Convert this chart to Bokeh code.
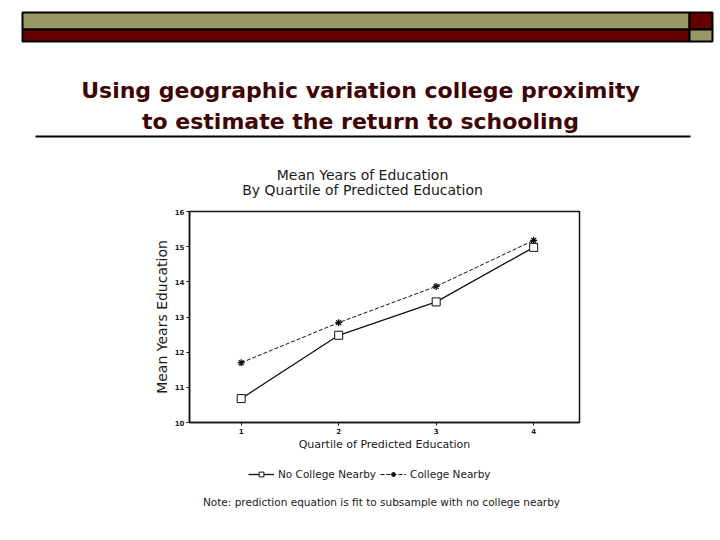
from bokeh.plotting import figure
from bokeh.models import (Label, BoxAnnotation, Legend, LegendItem, Range1d,
                          FixedTicker)
from bokeh.embed import file_html
from bokeh.resources import INLINE

# ---- data ----
quartiles = [1, 2, 3, 4]
no_college = [10.68, 12.48, 13.43, 14.98]
college = [11.70, 12.84, 13.87, 15.18]
y_ticks = [10, 11, 12, 13, 14, 15, 16]
x_ticks = [1, 2, 3, 4]
series_names = ["No College Nearby", "College Nearby"]

W = 720
HA = 200          # header figure height (page y 0-200)
HC_TOP = 455      # footer figure starts here (page y 455-540)
CH = "#1a1a1a"
FONT = "DejaVu Sans"


def deco_fig(y0, y1):
    f = figure(width=W, height=y1 - y0, output_backend="svg",
               toolbar_location=None,
               x_range=Range1d(0, W), y_range=Range1d(y1, y0),
               x_axis_type=None, y_axis_type=None,
               min_border=0, min_border_left=0, min_border_right=0,
               min_border_top=0, min_border_bottom=0)
    f.outline_line_color = None
    f.grid.visible = False
    f.background_fill_color = "white"
    f.border_fill_color = "white"
    return f


def label(f, X, Y, text, size, color=CH, font=FONT, style="normal",
          align="center", baseline="middle"):
    f.add_layout(Label(x=X, y=Y, text=text, text_font=font,
                       text_font_size=size, text_font_style=style,
                       text_color=color, text_align=align,
                       text_baseline=baseline))


# ================= header figure (slide decorations) =================
a = deco_fig(0, HA)


def box(x0, x1, y0, y1, fill, line=True):
    a.add_layout(BoxAnnotation(left=x0, right=x1, top=y0, bottom=y1,
                               fill_color=fill, fill_alpha=1,
                               line_color="black" if line else None,
                               line_width=2, line_alpha=1))


OLIVE = "#999966"
MAROON = "#660000"
box(22, 689, 12, 29, OLIVE)
box(689, 712, 12, 29, MAROON)
box(22, 689, 29, 41, MAROON)
box(689, 712, 29, 41, OLIVE)
box(35, 690, 135, 137, "black", line=False)

TC = "#3f0505"
label(a, 360, 90, "Using geographic variation college proximity", "22px",
      color=TC, font="DejaVu Sans", style="bold", baseline="alphabetic")
label(a, 360, 121, "to estimate the return to schooling", "22px",
      color=TC, font="DejaVu Sans", style="bold", baseline="alphabetic")

label(a, 362, 174, "Mean Years of Education", "14px")
label(a, 362, 189, "By Quartile of Predicted Education", "14px")

# ================= chart figure =================
FL, FR = 189, 579
FT, FB = 211, 422
p = figure(frame_width=FR - FL, frame_height=FB - FT,
           output_backend="svg", toolbar_location=None,
           x_range=Range1d(0.47, 4.47), y_range=Range1d(10, 16),
           min_border_left=FL, min_border_right=W - FR,
           min_border_top=FT - HA, min_border_bottom=HC_TOP - FB)
p.background_fill_color = "white"
p.border_fill_color = "white"
p.outline_line_color = "#111111"
p.outline_line_width = 1.5
p.grid.visible = False

p.yaxis.ticker = FixedTicker(ticks=y_ticks)
p.xaxis.ticker = FixedTicker(ticks=x_ticks)
for ax in (p.xaxis, p.yaxis):
    ax.axis_line_color = "#111111"
    ax.axis_line_width = 1.5
    ax.major_tick_line_color = "#111111"
    ax.major_tick_out = 3
    ax.major_tick_in = 0
    ax.minor_tick_line_color = None
    ax.major_label_text_font = FONT
    ax.major_label_text_font_size = "7px"
    ax.major_label_text_font_style = "bold"
    ax.major_label_text_color = CH
    ax.axis_label_text_font = FONT
    ax.axis_label_text_font_style = "normal"
    ax.axis_label_text_color = CH
p.yaxis.axis_label = "Mean Years Education"
p.yaxis.axis_label_text_font_size = "14px"
p.yaxis.axis_label_standoff = 2
p.xaxis.axis_label = "Quartile of Predicted Education"
p.xaxis.axis_label_text_font_size = "11px"
p.xaxis.axis_label_standoff = 1
p.xaxis.major_label_standoff = 2
p.yaxis.major_label_standoff = 2

p.line(quartiles, no_college, line_color="#111111", line_width=1.3)
p.scatter(quartiles, no_college, marker="square", size=8,
          fill_color="white", line_color="#111111", line_width=1)
p.line(quartiles, college, line_color="#111111", line_width=1,
       line_dash="4 2")
p.scatter(quartiles, college, marker="asterisk", size=7,
          line_color="#111111", line_width=1.3)

# ================= footer figure (legend + note) =================
c = deco_fig(HC_TOP, 540)
k1 = c.line(quartiles, no_college, line_color="#111111", line_width=1.3,
            visible=False)
k2 = c.scatter(quartiles, no_college, marker="square", size=8,
               fill_color="white", line_color="#111111", line_width=1,
               visible=False)
k3 = c.line(quartiles, college, line_color="#111111", line_width=1,
            line_dash="4 2", visible=False)
k4 = c.scatter(quartiles, college, marker="asterisk", size=7,
               line_color="#111111", line_width=1.3, visible=False)

legend = Legend(items=[LegendItem(label=series_names[0], renderers=[k1, k2]),
                       LegendItem(label=series_names[1], renderers=[k3, k4])],
                orientation="horizontal", location=(248, 540 - 480),
                padding=0, margin=0, spacing=4, label_standoff=4,
                glyph_width=26, glyph_height=12, label_height=12,
                label_text_font=FONT, label_text_font_size="10.5px",
                label_text_color=CH, background_fill_alpha=0,
                border_line_alpha=0, inactive_fill_alpha=0)
c.add_layout(legend, "center")

label(c, 381, 501,
      "Note: prediction equation is fit to subsample with no college nearby",
      "10.5px")

open("out.html", "w").write(file_html([a, p, c], INLINE))
